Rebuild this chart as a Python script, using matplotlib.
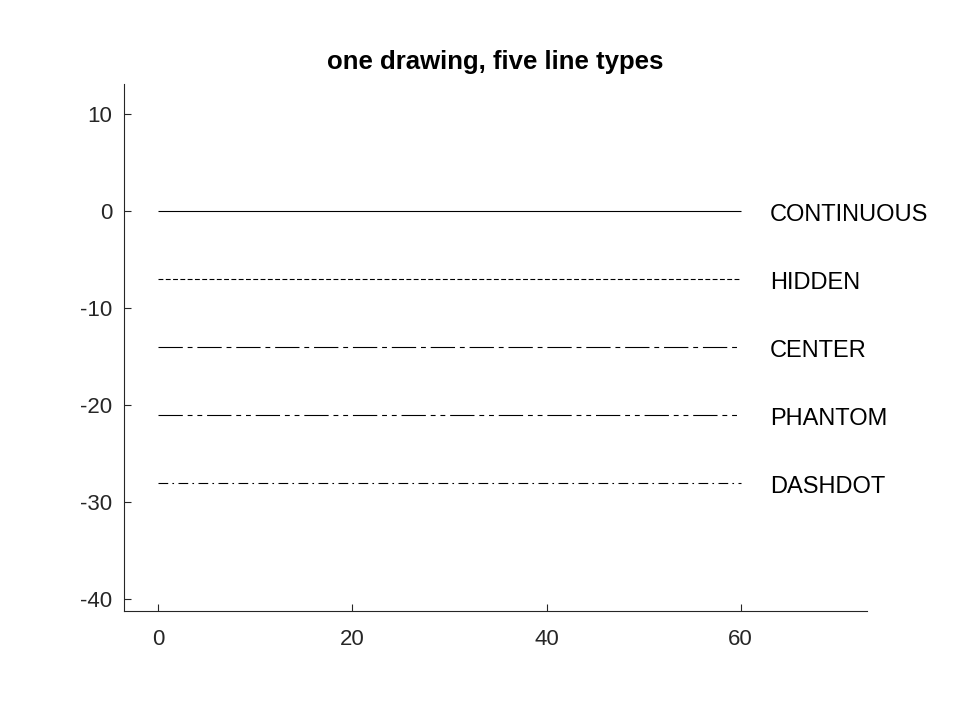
import matplotlib
matplotlib.use("Agg")
import matplotlib.pyplot as plt

# line data: one horizontal line per linetype
names = ["CONTINUOUS", "HIDDEN", "CENTER", "PHANTOM", "DASHDOT"]
y_levels = [0, -7, -14, -21, -28]
x_start = 0
x_end = 60
label_x = 63

# dash patterns (points), roughly the AutoCAD linetype definitions
dash_styles = {
    "CONTINUOUS": None,
    "HIDDEN": (3.5, 1.75),
    "CENTER": (17.5, 3.5, 3.5, 3.5),
    "PHANTOM": (17.5, 3.5, 3.5, 3.5, 3.5, 3.5),
    "DASHDOT": (7, 3, 1.2, 3.2),
}

plt.rcParams["font.family"] = ["Liberation Sans", "DejaVu Sans"]
plt.rcParams["lines.scale_dashes"] = False
plt.rcParams["axes.unicode_minus"] = False

fig = plt.figure(figsize=(9.6, 7.2), dpi=100)
ax = fig.add_axes([0.1295, 0.1514, 0.7735, 0.7319])

for name, yv in zip(names, y_levels):
    line, = ax.plot([x_start, x_end], [yv, yv], color="black", lw=0.8,
                    solid_capstyle="butt", dash_capstyle="butt")
    if dash_styles[name] is not None:
        line.set_dashes(dash_styles[name])
    ax.text(label_x, yv - 0.4, name, fontsize=17, va="center", ha="left",
            color="black")

ax.set_xlim(-3.5, 73)
ax.set_ylim(-41.2, 13.1)
ax.set_xticks([0, 20, 40, 60])
ax.set_yticks([-40, -30, -20, -10, 0, 10])

for side in ["top", "right"]:
    ax.spines[side].set_visible(False)
for side in ["left", "bottom"]:
    ax.spines[side].set_color("#262626")
    ax.spines[side].set_linewidth(0.8)

ax.tick_params(direction="in", length=5, width=0.8, colors="#262626",
               labelsize=16)
ax.tick_params(axis="x", pad=13)
ax.tick_params(axis="y", pad=8.5)

ax.set_title("one drawing, five line types", fontsize=18.5, fontweight="bold",
             pad=10.5)

fig.savefig("out.png", dpi=100)
